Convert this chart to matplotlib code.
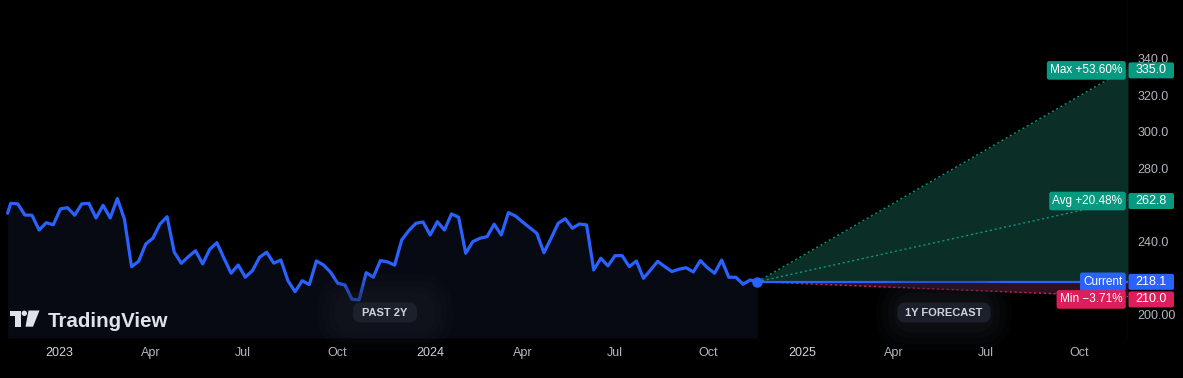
import matplotlib
matplotlib.use('Agg')
import matplotlib.pyplot as plt
from matplotlib.patches import FancyBboxPatch, Rectangle, Circle, Polygon
import numpy as np
import pandas as pd

plt.rcParams['font.family'] = ['Liberation Sans', 'DejaVu Sans']

# ---------------- data ----------------
first_date = '2022-11-11'
week_start = '2022-11-14'
prices = [
    255.6, 261.0, 260.7, 254.6, 254.5, 246.4, 250.4, 249.3, 258.0, 258.6,
    254.5, 260.7, 261.0, 253.0, 259.9, 253.0, 263.6, 252.3, 226.4, 229.3,
    238.8, 241.9, 249.7, 253.7, 234.4, 228.2, 231.9, 235.1, 227.9, 235.9,
    239.5, 231.0, 222.8, 227.3, 220.6, 224.2, 231.5, 234.3, 228.3, 230.0,
    218.7, 212.7, 218.7, 216.6, 229.5, 227.3, 223.3, 217.3, 216.4, 208.6,
    208.2, 223.1, 220.6, 229.7, 229.0, 227.2, 241.0, 246.1, 250.1, 250.8,
    243.7, 251.0, 246.4, 255.2, 253.4, 233.7, 240.1, 241.9, 242.8, 249.6,
    243.7, 255.9, 254.1, 250.8, 247.7, 244.6, 234.0, 241.9, 250.1, 252.6,
    247.4, 249.7, 249.2, 224.6, 231.0, 226.8, 232.4, 232.4, 226.4, 229.5,
    220.0, 224.6, 229.3, 226.4, 223.7, 225.0, 225.8, 223.5, 229.7, 225.8,
    222.8, 230.0, 220.6, 220.6, 216.8, 219.1, 218.1]
dates = [pd.Timestamp(first_date)] + list(pd.date_range(week_start, periods=len(prices) - 1, freq='7D'))

forecast_end = pd.Timestamp('2025-11-18')
current_price = 218.1
max_price, avg_price, min_price = 335.0, 262.8, 210.0
max_label, avg_label, min_label = 'Max +53.60%', 'Avg +20.48%', 'Min \u22123.71%'

xtick_dates = ['2023-01-01', '2023-04-01', '2023-07-01', '2023-10-01',
               '2024-01-01', '2024-04-01', '2024-07-01', '2024-10-01',
               '2025-01-01', '2025-04-01', '2025-07-01', '2025-10-01']
xtick_labels = ['2023', 'Apr', 'Jul', 'Oct', '2024', 'Apr', 'Jul', 'Oct',
                '2025', 'Apr', 'Jul', 'Oct']
ytick_values = [200, 240, 280, 300, 320, 340]
ytick_labels = ['200.00', '240.0', '280.0', '300.0', '320.0', '340.0']

# ---------------- style ----------------
BG = '#000000'
BLUE = '#2962ff'
GREEN = '#089981'
RED = '#dc1f5c'
GREY = '#b2b5be'

W, H = 1183, 378
fig = plt.figure(figsize=(W / 100, H / 100), dpi=100, facecolor=BG)
ax = fig.add_axes([0, (H - 338) / H, 1128 / W, 338 / H])
ax.set_facecolor(BG)

cur_date = dates[-1]
ax.set_xlim(pd.Timestamp('2022-11-03 12:00'), forecast_end)
ax.set_ylim(187.4, 372.1)

# past area + line
ybot = ax.get_ylim()[0]
ax.fill_between(dates, prices, ybot, color='#070a12', lw=0, zorder=1)
ax.plot(dates, prices, color=BLUE, lw=2.3, solid_joinstyle='round',
        solid_capstyle='round', zorder=5)

# forecast cone
fx = [cur_date, forecast_end]
ax.fill_between(fx, [current_price, current_price], [current_price, max_price],
                color='#0b2e27', lw=0, zorder=2)
ax.fill_between(fx, [current_price, current_price], [current_price, min_price],
                color='#33101f', lw=0, zorder=2)
ax.plot(fx, [current_price, max_price], color=GREEN, lw=1, ls=(0, (1.5, 2)), zorder=3)
ax.plot(fx, [current_price, avg_price], color=GREEN, lw=1, ls=(0, (1.5, 2)), zorder=3)
ax.plot(fx, [current_price, min_price], color=RED, lw=1, ls=(0, (1.5, 2)), zorder=3)
ax.plot(fx, [current_price, current_price], color=BLUE, lw=1.6, zorder=4)
ax.plot([cur_date], [current_price], 'o', ms=6.5, color=BLUE, zorder=6)

# axes styling
for s in ['top', 'left', 'bottom', 'right']:
    ax.spines[s].set_visible(False)
ax.axvline(forecast_end, ymin=0, ymax=(ypix_top := 1.0), color='#1e222b', lw=1, zorder=1)
ax.set_xticks(pd.to_datetime(xtick_dates))
ax.set_xticklabels(xtick_labels)
ax.tick_params(axis='x', length=0, pad=6.5, labelsize=9, labelcolor=GREY)
for lab in ax.get_xticklabels():
    if lab.get_text().isdigit():
        lab.set_color('#d1d4dc')
ax.yaxis.tick_right()
ax.set_yticks(ytick_values)
ax.set_yticklabels(ytick_labels)
ax.tick_params(axis='y', length=0, pad=7, labelsize=9, labelcolor=GREY)

# ---------------- overlay (labels, badges, logo) ----------------
ov = fig.add_axes([0, 0, 1, 1])
ov.set_xlim(0, W)
ov.set_ylim(H, 0)
ov.axis('off')
ov.patch.set_alpha(0)


def ypix(v):
    return H - ax.transData.transform((0, v))[1]


def price_label(value, text, color, dy=0.0):
    y = ypix(value) + dy
    ov.add_patch(FancyBboxPatch((1128.5, y - 8), 45.5, 16,
                                boxstyle='round,pad=0,rounding_size=2',
                                fc=color, ec='none', zorder=10))
    ov.text(1151, y, f'{value:.1f}', ha='center', va='center', color='white',
            fontsize=9, zorder=11)
    ov.text(1122.5, y, text, ha='right', va='center', color='white', fontsize=8.5,
            zorder=11,
            bbox=dict(boxstyle='round,pad=0.28,rounding_size=0.2', fc=color, ec='none'))


price_label(max_price, max_label, GREEN, dy=2.5)
price_label(avg_price, avg_label, GREEN, dy=1.0)
price_label(current_price, 'Current', BLUE)
price_label(min_price, min_label, RED, dy=2.8)


def badge(cx, cy, text):
    for i, a in enumerate([0.10, 0.12, 0.15, 0.2]):
        pad = 28 - i * 6
        ov.add_patch(FancyBboxPatch((cx - 40 - pad, cy - 10 - pad), 80 + 2 * pad, 20 + 2 * pad,
                                    boxstyle=f'round,pad=0,rounding_size={10 + pad}',
                                    fc='#1b1f29', ec='none', alpha=a, zorder=7))
    tw = 7.2 * len(text) + 14
    ov.add_patch(FancyBboxPatch((cx - tw / 2, cy - 10), tw, 20,
                                boxstyle='round,pad=0,rounding_size=8',
                                fc='#1c202b', ec='none', zorder=8))
    ov.text(cx, cy + 0.5, text, ha='center', va='center', color='#d1d4dc',
            fontsize=8, fontweight='bold', zorder=9)


badge(385, 312.5, 'PAST 2Y')
badge(944, 312.5, '1Y FORECAST')

# TradingView logo
LOGO = '#dfe2ea'
ov.add_patch(Rectangle((10, 310.5), 10.7, 5.5, fc=LOGO, ec='none', zorder=9))
ov.add_patch(Rectangle((15, 310.5), 5.7, 16.2, fc=LOGO, ec='none', zorder=9))
ov.add_patch(Circle((24.3, 313.3), 2.7, fc=LOGO, ec='none', zorder=9))
ov.add_patch(Polygon([(28.5, 310.5), (39.5, 310.5), (33.0, 326.7), (25.5, 326.7)],
                     closed=True, fc=LOGO, ec='none', zorder=9))
ov.text(47.5, 327, 'TradingView', ha='left', va='baseline', color=LOGO,
        fontsize=14.8, fontweight='bold', zorder=9)

fig.savefig('out.png', dpi=100, facecolor=BG)
